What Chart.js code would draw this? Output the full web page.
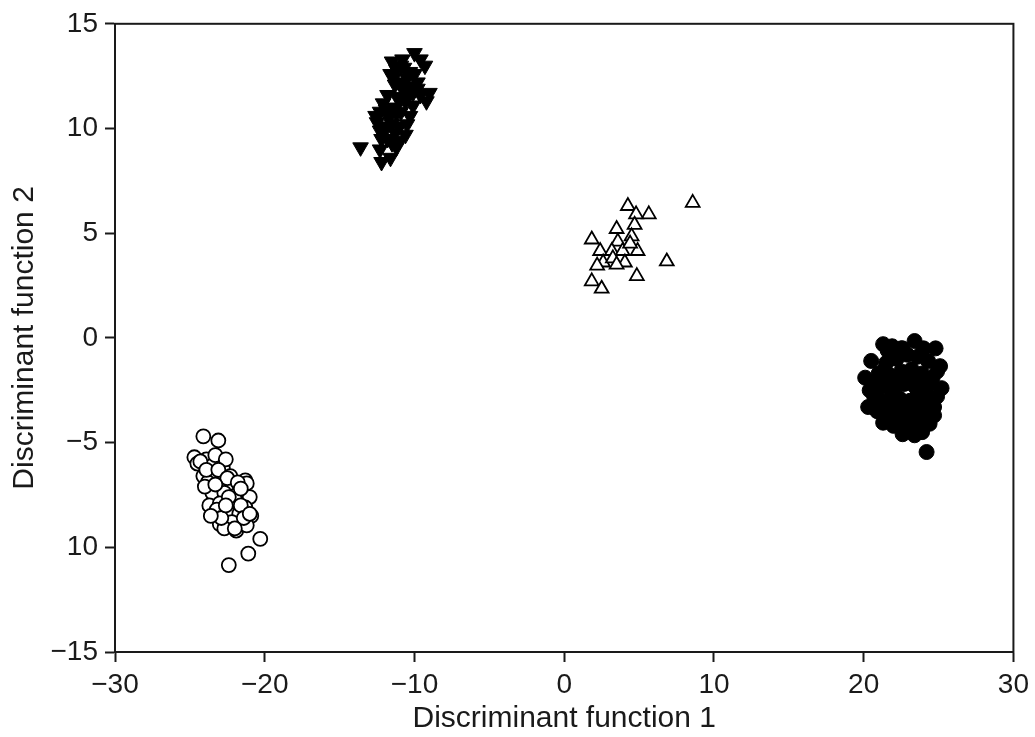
<!DOCTYPE html>
<html>
<head>
<meta charset="utf-8">
<script src="https://cdn.jsdelivr.net/npm/chart.js@4/dist/chart.umd.min.js"></script>
<style>
  body { margin: 0; background: #fff; }
  canvas { display: block; }
</style>
</head>
<body>
<canvas id="ldaPlot" width="1035" height="737"></canvas>
<script>
// group 1: filled down triangles
var g1x = [-13.6, -12.3, -12.2, -11.2, -11.6, -10.0, -11.5, -10.8, -9.6, -9.3, -11.2, -10.3, -9.0, -9.2, -9.6,
  -11.4, -10.8, -11.8, -10.5, -12.1, -11.0, -10.1, -12.3, -11.2, -10.3, -12.5, -11.5, -10.5, -12.3, -11.3,
  -10.6, -11.8, -11.0, -11.6, -9.8, -10.1, -10.4, -11.9,
  -12.0, -11.7, -11.4, -11.1, -10.8, -10.5, -10.9, -10.6, -10.3, -12.2, -11.0, -11.3, -10.7, -11.9,
  -10.0, -9.8, -11.5, -12.6, -10.9, -11.6];
var g1y = [9.1, 9.0, 8.4, 9.1, 8.6, 13.6, 13.2, 13.3, 13.3, 13.0, 12.8, 12.7, 11.7, 11.3, 11.6,
  12.4, 12.2, 11.6, 11.7, 11.2, 11.3, 11.1, 10.8, 10.7, 10.6, 10.3, 10.2, 10.2, 9.9, 9.8,
  9.7, 9.5, 9.4, 10.8, 12.2, 11.7, 12.0, 10.0,
  10.1, 10.5, 11.0, 11.5, 11.9, 12.4, 10.8, 11.3, 11.8, 9.5, 10.1, 12.1, 12.9, 10.9,
  12.6, 11.9, 9.3, 10.6, 13.0, 12.6];

// group 2: open up triangles
var g2x = [4.25, 5.65, 8.58, 4.8, 4.7, 3.5, 1.84, 4.5, 3.58, 2.4, 3.18, 3.9, 4.9, 2.6, 2.2, 4.05, 3.25, 6.85,
  4.85, 1.84, 2.5, 3.5, 4.4];
var g2y = [6.3, 5.9, 6.45, 5.9, 5.4, 5.2, 4.7, 4.85, 4.6, 4.15, 4.15, 4.15, 4.15, 3.6, 3.45, 3.6, 3.8, 3.65,
  2.95, 2.7, 2.35, 3.5, 4.5];

// group 3: filled circles
var g3x = [21.3, 21.9, 23.4, 24.8, 20.5, 20.1, 20.4, 20.3, 21.3, 22.4, 23.4, 24.2, 25.1, 25.2, 24.7, 24.4,
  21.5, 22.2, 22.9, 23.6, 24.3, 21.0, 21.8, 22.5, 23.2, 23.9, 24.6, 21.3, 22.0, 22.7, 23.4, 24.1,
  21.0, 21.7, 22.4, 23.1, 23.8, 24.5, 21.4, 22.1, 22.8, 23.5, 24.2, 22.0, 22.9, 23.6, 22.6, 23.0,
  21.6, 22.5, 24.0, 20.8, 21.4, 22.3, 23.0, 23.7, 24.4, 24.9, 20.9, 21.7, 22.5, 23.2, 23.9, 24.7,
  21.9, 23.6, 22.6, 23.9, 20.7, 24.9];
var g3y = [-0.3, -0.4, -0.15, -0.5, -1.1, -1.9, -2.5, -3.3, -4.05, -4.05, -4.65, -5.45, -1.35, -2.4, -3.3, -4.1,
  -1.2, -1.0, -0.8, -0.9, -1.1, -1.7, -1.8, -1.6, -1.5, -1.7, -1.9, -2.3, -2.4, -2.2, -2.3, -2.5,
  -2.9, -3.0, -2.9, -3.0, -3.1, -2.9, -3.5, -3.6, -3.5, -3.7, -3.6, -4.2, -4.3, -4.2, -0.5, -3.9,
  -0.6, -0.5, -0.5, -2.1, -1.5, -2.0, -1.9, -2.0, -2.2, -2.8, -3.5, -3.9, -3.3, -3.4, -3.9, -3.7,
  -2.7, -2.7, -4.6, -4.5, -2.8, -1.6];

// group 4: open circles
var g4x = [-24.1, -23.1, -24.7, -23.9, -24.5, -23.5, -22.8, -24.1, -23.5, -22.3, -21.3, -23.8, -23.0, -22.2,
  -21.2, -23.5, -22.7, -21.9, -21.0, -23.7, -23.0, -22.1, -21.3, -22.5, -21.7, -20.9, -23.0, -22.2,
  -22.7, -21.9, -21.2, -20.3, -21.1, -22.4,
  -24.3, -23.3, -22.6, -23.9, -23.1, -22.5, -21.8, -24.0, -23.3, -22.0, -23.2, -22.4, -21.6, -22.9,
  -21.4, -22.6, -21.6, -23.6, -21.0, -22.0];
var g4y = [-4.7, -4.9, -5.7, -5.8, -6.0, -6.1, -6.2, -6.6, -6.5, -6.6, -6.8, -6.9, -6.95, -7.1,
  -6.95, -7.4, -7.4, -7.5, -7.6, -8.0, -7.9, -7.9, -8.1, -8.3, -8.4, -8.5, -8.9, -8.8,
  -9.1, -9.2, -8.95, -9.6, -10.3, -10.85,
  -5.9, -5.6, -5.8, -6.3, -6.3, -6.7, -6.9, -7.1, -7.0, -7.7, -8.2, -7.6, -8.0, -8.6,
  -8.6, -8.0, -7.2, -8.5, -8.4, -9.1];

var xTickLabels = ['\u221230', '\u221220', '\u221210', '0', '10', '20', '30'];
var yTickLabels = ['\u221215', '10', '\u22125', '0', '5', '10', '15'];

function toPoints(xs, ys) {
  var pts = [];
  for (var i = 0; i < xs.length; i++) pts.push({ x: xs[i], y: ys[i] });
  return pts;
}

var ink = '#1a1a1a';
var font = 'Liberation Sans, Arial, Helvetica, sans-serif';

// frame round the plot area (top and right sides)
var frame = {
  id: 'frame',
  afterDraw: function (chart) {
    var a = chart.chartArea, ctx = chart.ctx;
    ctx.save();
    ctx.strokeStyle = ink;
    ctx.lineWidth = 2;
    ctx.strokeRect(a.left, a.top, a.right - a.left, a.bottom - a.top);
    ctx.restore();
  }
};

var ctx = document.getElementById('ldaPlot');
var chart = new Chart(ctx, {
  type: 'scatter',
  data: {
    datasets: [
      { data: toPoints(g1x, g1y), pointStyle: 'triangle', rotation: 180, pointRadius: 9,
        backgroundColor: '#000', borderColor: '#000', borderWidth: 1 },
      { data: toPoints(g2x, g2y), pointStyle: 'triangle', pointRadius: 8,
        backgroundColor: '#fff', borderColor: '#000', borderWidth: 1.8 },
      { data: toPoints(g3x, g3y), pointStyle: 'circle', pointRadius: 7.5,
        backgroundColor: '#000', borderColor: '#000', borderWidth: 1 },
      { data: toPoints(g4x, g4y), pointStyle: 'circle', pointRadius: 7,
        backgroundColor: '#fff', borderColor: '#000', borderWidth: 1.8 }
    ]
  },
  options: {
    responsive: false,
    animation: false,
    layout: { padding: { top: 22, right: 21, left: 0, bottom: 0 } },
    plugins: { legend: { display: false }, tooltip: { enabled: false } },
    scales: {
      x: {
        type: 'linear', min: -30, max: 30,
        afterFit: function (s) { s.height = 85; },
        ticks: {
          stepSize: 10, autoSkip: false, maxRotation: 0, padding: 6,
          color: ink, font: { family: font, size: 28 },
          callback: function (v) { return xTickLabels[Math.round((v + 30) / 10)]; }
        },
        grid: { drawOnChartArea: false, tickLength: 10, tickColor: ink, tickWidth: 2 },
        border: { color: ink, width: 2 },
        title: { display: true, text: 'Discriminant function 1', color: ink,
          font: { family: font, size: 30 }, padding: { top: 0, bottom: 0 } }
      },
      y: {
        type: 'linear', min: -15, max: 15,
        afterFit: function (s) { s.width = 115; },
        ticks: {
          stepSize: 5, autoSkip: false, padding: 7,
          color: ink, font: { family: font, size: 28 },
          callback: function (v) { return yTickLabels[Math.round((v + 15) / 5)]; }
        },
        grid: { drawOnChartArea: false, tickLength: 10, tickColor: ink, tickWidth: 2 },
        border: { color: ink, width: 2 },
        title: { display: true, text: 'Discriminant function 2', color: ink,
          font: { family: font, size: 30 }, padding: { top: 7, bottom: 0 } }
      }
    }
  },
  plugins: [frame]
});
</script>
</body>
</html>
